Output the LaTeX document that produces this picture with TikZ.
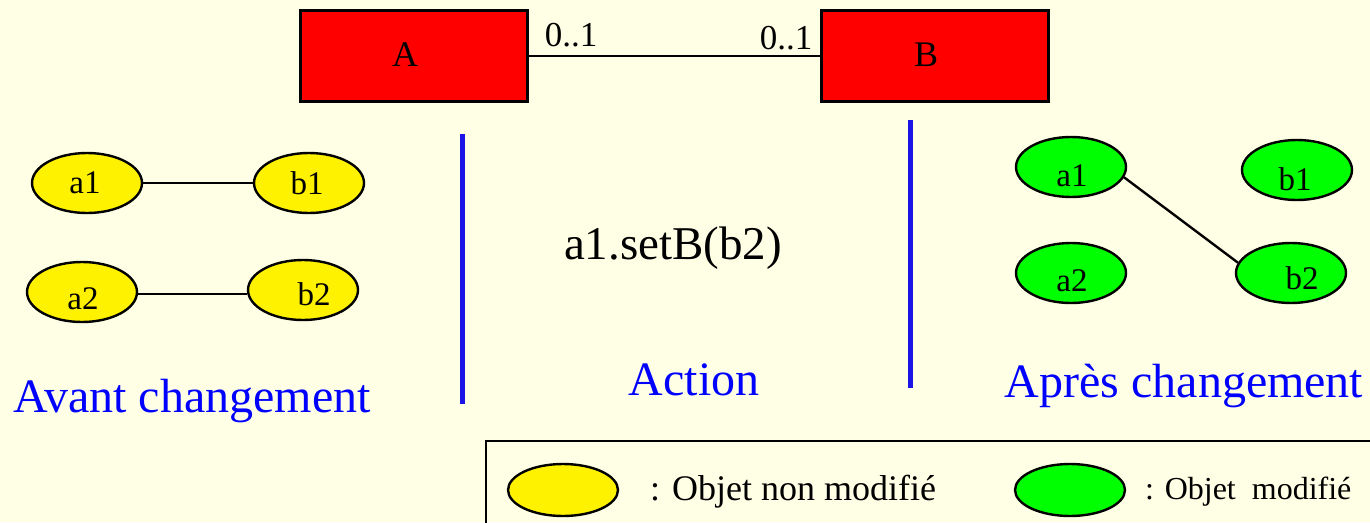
\documentclass[tikz,border=0pt]{standalone}
\usepackage{fontspec}
\setmainfont{Liberation Serif}
\usetikzlibrary{shapes.geometric}
\definecolor{paper}{HTML}{FFFFE6}
\definecolor{sepblue}{HTML}{1A14E6}
\tikzset{
  cls/.style={draw=black, line width=2.4pt, fill=red, minimum width=227pt, minimum height=91pt, inner sep=0pt},
  clstxt/.style={font=\fontsize{36}{38}\selectfont, inner sep=0pt},
  obj/.style={ellipse, draw=black, line width=2.4pt, minimum width=110pt, minimum height=60pt, inner sep=0pt},
  objtxt/.style={font=\fontsize{33}{35}\selectfont, inner sep=0pt},
  link/.style={draw=black, line width=2.4pt},
  sep/.style={draw=sepblue, line width=5pt},
  heading/.style={text=blue, font=\fontsize{48}{50}\selectfont, inner sep=0pt},
  mult/.style={font=\fontsize{35}{37}\selectfont, inner sep=0pt},
  legtxt/.style={font=\fontsize{36}{38}\selectfont, inner sep=0pt, anchor=base west}
}
\begin{document}
\begin{tikzpicture}[x=1pt, y=-1pt]
  \useasboundingbox (0,0) rectangle (1370,522);
  \clip (0,0) rectangle (1370,522);
  \fill[paper] (0,0) rectangle (1370,522);

  % class diagram
  \node[cls] (A) at (414,56) {};
  \node[cls] (B) at (935,56) {};
  \node[clstxt] (tA) at (405,55) {A};
  \node[clstxt] (tB) at (926,55) {B};
  \draw[link] (A) -- (B);
  \node[mult] (mA) at (571,35) {0..1};
  \node[mult] (mB) at (786,38) {0..1};

  % before the change
  \node[obj, fill=yellow] (la1) at (87,183) {};
  \node[obj, fill=yellow] (lb1) at (309,183) {};
  \node[obj, fill=yellow] (la2) at (82,292) {};
  \node[obj, fill=yellow] (lb2) at (303,290) {};
  \node[objtxt] (ta1) at (85,183) {a1};
  \node[objtxt] (tb1) at (307,183) {b1};
  \node[objtxt] (ta2) at (83,299) {a2};
  \node[objtxt] (tb2) at (314,294) {b2};
  \draw[link] (la1) -- (lb1);
  \draw[link] (la2.east |- 0,294) -- (lb2.west |- 0,294);

  % separators
  \coordinate (s1t) at (462,134);
  \coordinate (s1b) at (462,404);
  \coordinate (s2t) at (910,120);
  \coordinate (s2b) at (910,388);
  \draw[sep] (s1t) -- (s1b);
  \draw[sep] (s2t) -- (s2b);

  % action
  \node[font=\fontsize{47}{50}\selectfont, inner sep=0pt] (act) at (673,248) {a1.setB(b2)};

  % after the change
  \node[obj, fill=green] (ra1) at (1071,167) {};
  \node[obj, fill=green] (rb1) at (1297,170) {};
  \node[obj, fill=green] (ra2) at (1071,273) {};
  \node[obj, fill=green] (rb2) at (1291,273) {};
  \node[objtxt] (ua1) at (1072,176) {a1};
  \node[objtxt] (ub1) at (1295,179) {b1};
  \node[objtxt] (ua2) at (1072,281) {a2};
  \node[objtxt] (ub2) at (1302,278) {b2};
  \draw[link] (ra1.-11) -- (rb2.169);

  % headings
  \node[heading] (h1) at (192,401) {Avant changement};
  \node[heading] (h2) at (694,380) {Action};
  \node[heading] (h3) at (1184,386) {Après changement};

  % legend
  \draw[draw=black, line width=2.5pt] (1380,441) -| (486,530);
  \node[obj, fill=yellow, minimum height=52pt] (ky) at (563,490) {};
  \node[obj, fill=green, minimum height=52pt] (kg) at (1070,490) {};
  \node[legtxt] (ly) at (650,500) {: Objet non modifié};
  \node[legtxt, font=\fontsize{32}{34}\selectfont] (lg) at (1145,499) {: Objet \ modifié};
\end{tikzpicture}
\end{document}
